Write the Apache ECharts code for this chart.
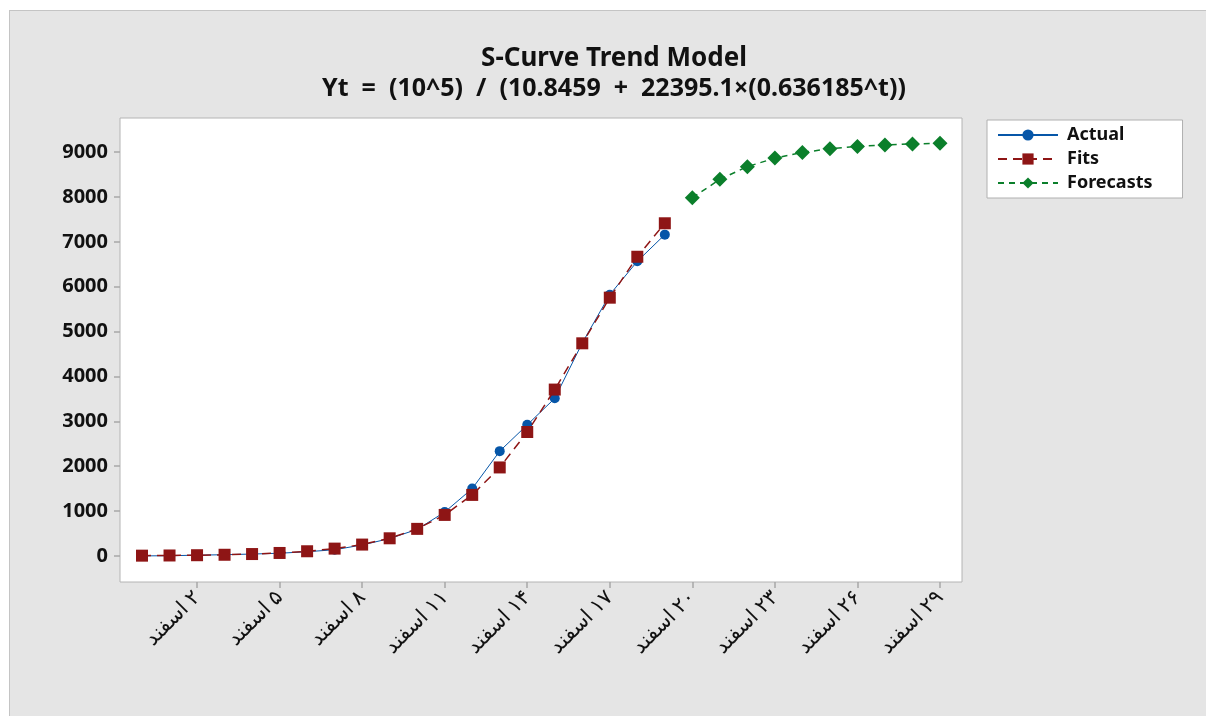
<!DOCTYPE html>
<html>
<head>
<meta charset="utf-8">
<script src="https://cdn.jsdelivr.net/npm/echarts@6/dist/echarts.min.js"></script>
<style>
  body { margin: 0; background: #fff; }
  #frame { position: absolute; left: 9px; top: 10px; right: 0; bottom: 0; background: #e5e5e5; border-left: 1px solid #c4c4c4; border-top: 1px solid #c4c4c4; }
  #main { position: absolute; left: 0; top: 0; width: 1206px; height: 716px; }
</style>
</head>
<body>
<div id="frame"></div>
<div id="main"></div>
<script>
// روزها (اندیس صفر = ۳۰ بهمن)
var dayLabels = ['۳۰ بهمن', '۱ اسفند', '۲ اسفند', '۳ اسفند', '۴ اسفند', '۵ اسفند', '۶ اسفند', '۷ اسفند',
  '۸ اسفند', '۹ اسفند', '۱۰ اسفند', '۱۱ اسفند', '۱۲ اسفند', '۱۳ اسفند', '۱۴ اسفند', '۱۵ اسفند',
  '۱۶ اسفند', '۱۷ اسفند', '۱۸ اسفند', '۱۹ اسفند', '۲۰ اسفند', '۲۱ اسفند', '۲۲ اسفند', '۲۳ اسفند',
  '۲۴ اسفند', '۲۵ اسفند', '۲۶ اسفند', '۲۷ اسفند', '۲۸ اسفند', '۲۹ اسفند']
var xTicks = [2, 5, 8, 11, 14, 17, 20, 23, 26, 29]
var yTicks = [0, 1000, 2000, 3000, 4000, 5000, 6000, 7000, 8000, 9000]

var actual = [2, 5, 18, 28, 43, 61, 95, 139, 245, 388, 593, 978, 1501, 2336, 2922, 3513, 4747, 5823, 6566, 7161]
var fits = [7, 11, 17, 27, 43, 67, 105, 164, 254, 394, 604, 915, 1361, 1973, 2763, 3708, 4739, 5756, 6668, 7414]
var forecasts = [7983, 8393, 8676, 8866, 8992, 9074, 9126, 9160, 9182, 9196]

var font = "'Noto Sans', 'DejaVu Sans', sans-serif"

var myChart = echarts.init(document.getElementById('main'))
myChart.setOption({
  textStyle: { fontFamily: font },
  title: {
    text: 'S-Curve Trend Model',
    subtext: 'Yt  =  (10^5)  /  (10.8459  +  22395.1×(0.636185^t))',
    left: 609,
    top: 41,
    textAlign: 'center',
    itemGap: 4,
    textStyle: { fontSize: 26, fontWeight: 'bold', color: '#111', fontFamily: font },
    subtextStyle: { fontSize: 25, fontWeight: 'bold', color: '#111', fontFamily: font }
  },
  legend: {
    orient: 'vertical',
    left: 987,
    top: 120,
    backgroundColor: '#fff',
    borderColor: '#b0b0b0',
    borderWidth: 1,
    borderRadius: 0,
    padding: [5, 30, 5, 10],
    itemGap: 4,
    itemWidth: 60,
    itemHeight: 14,
    textStyle: { fontSize: 18, fontWeight: 'bold', color: '#111', lineHeight: 20, padding: [0, 0, 0, 4] },
    data: ['Actual', 'Fits', 'Forecasts']
  },
  grid: {
    left: 120,
    right: 244,
    top: 118,
    bottom: 134,
    show: true,
    backgroundColor: '#fff',
    borderColor: '#b4b4b4',
    borderWidth: 1
  },
  xAxis: {
    type: 'value',
    min: -0.8,
    max: 29.8,
    splitLine: { show: false },
    axisLine: { show: false, onZero: false },
    axisTick: { show: true, length: 6, customValues: xTicks, lineStyle: { color: '#a8a8a8', width: 1.5 } },
    axisLabel: {
      customValues: xTicks,
      rotate: 45,
      margin: 12,
      fontSize: 21,
      color: '#111',
      fontFamily: font,
      formatter: function (v) {
        return '\u200F' + dayLabels[Math.round(v)]
      }
    }
  },
  yAxis: {
    type: 'value',
    min: -580,
    max: 9760,
    splitLine: { show: false },
    axisLine: { show: false, onZero: false },
    axisTick: { show: true, length: 6, customValues: yTicks, lineStyle: { color: '#a8a8a8', width: 1.5 } },
    axisLabel: {
      customValues: yTicks,
      margin: 12,
      fontSize: 20,
      fontWeight: 'bold',
      color: '#111',
      fontFamily: font,
      formatter: function (v) { return String(v) }
    }
  },
  series: [
    {
      name: 'Actual',
      type: 'line',
      data: actual.map(function (v, i) { return [i, v] }),
      symbol: 'circle',
      symbolSize: 10,
      showAllSymbol: true,
      itemStyle: { color: '#0656a8' },
      lineStyle: { color: '#0656a8', width: 1 },
      z: 2
    },
    {
      name: 'Fits',
      type: 'line',
      data: fits.map(function (v, i) { return [i, v] }),
      symbol: 'rect',
      symbolSize: 12,
      showAllSymbol: true,
      itemStyle: { color: '#8e1515' },
      lineStyle: { color: '#8e1515', width: 1.5, type: [9, 6] },
      z: 3
    },
    {
      name: 'Forecasts',
      type: 'line',
      data: forecasts.map(function (v, i) { return [i + actual.length, v] }),
      symbol: 'diamond',
      symbolSize: 15,
      showAllSymbol: true,
      itemStyle: { color: '#0b7f2b' },
      lineStyle: { color: '#0b7f2b', width: 1.5, type: [6, 5] },
      z: 3
    }
  ]
})
</script>
</body>
</html>
